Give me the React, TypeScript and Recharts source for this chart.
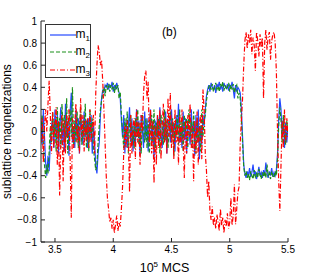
import { LineChart, Line, XAxis, YAxis, Legend } from 'recharts';

const FONT = '"Liberation Sans", Arial, Helvetica, sans-serif';

// time samples start at 3.38 (units of 10^5 MCS), one every 0.01
const T0 = 3.38;
const DT = 0.01;

const m1 = [
  0.1, -0.12, 0.2, -0.05, -0.28, -0.4, -0.22, -0.36, -0.1, 0.05,
  0.12, -0.15, 0.2, -0.08, 0.15, -0.2, 0.05, 0.22, -0.12, 0.08,
  -0.18, 0.25, -0.05, 0.1, -0.22, 0.18, 0.35, -0.1, 0.05, -0.15,
  0.2, -0.08, 0.12, -0.2, 0.15, 0.02, -0.12, 0.18, -0.05, 0.1,
  -0.15, 0.12, -0.08, 0.15, -0.2, 0.05, -0.1, -0.3, -0.38, -0.2,
  -0.1, 0.15, 0.3, 0.38, 0.35, 0.42, 0.4, 0.44, 0.38, 0.42,
  0.4, 0.45, 0.36, 0.42, 0.38, 0.44, 0.4, 0.35, 0.3, 0.1,
  -0.05, 0.15, -0.2, 0.1, -0.15, 0.05, 0.22, -0.1, 0.12, -0.18,
  0.08, -0.12, 0.2, -0.05, 0.1, -0.22, 0.15, 0.02, -0.15, 0.18,
  -0.08, 0.12, -0.18, 0.05, 0.2, -0.1, 0.08, -0.25, 0.1, -0.05,
  0.15, -0.12, 0.22, 0.0, -0.15, 0.1, -0.08, 0.18, -0.2, 0.05,
  0.12, -0.1, 0.2, -0.05, 0.08, -0.18, 0.15, -0.02, 0.25, -0.1,
  0.05, -0.15, 0.18, -0.08, 0.12, -0.2, 0.1, 0.02, -0.12, 0.2,
  -0.05, 0.1, -0.22, 0.15, -0.1, 0.2, -0.25, 0.05, -0.12, 0.15,
  0.05, 0.2, 0.32, 0.38, 0.42, 0.36, 0.44, 0.4, 0.38, 0.42,
  0.35, 0.43, 0.4, 0.45, 0.38, 0.42, 0.36, 0.44, 0.41, 0.39,
  0.43, 0.37, 0.42, 0.4, 0.45, 0.38, 0.3, 0.42, 0.36, 0.4,
  0.38, 0.35, 0.2, -0.05, -0.3, -0.38, -0.42, -0.36, -0.4, -0.33,
  -0.41, -0.37, -0.3, -0.4, -0.36, -0.43, -0.38, -0.32, -0.4, -0.37,
  -0.42, -0.35, -0.4, -0.28, -0.38, -0.42, -0.36, -0.4, -0.33, -0.41,
  -0.37, -0.4, -0.35, -0.2, 0.1, 0.3, 0.2, -0.05, 0.12, -0.15,
  0.08, -0.1, 0.05,
];

const m2 = [
  0.0, 0.15, -0.1, -0.3, -0.42, -0.3, -0.38, -0.18, 0.05, -0.1,
  0.18, -0.05, 0.1, -0.18, 0.22, -0.1, 0.12, -0.15, 0.25, 0.0,
  0.15, -0.1, 0.3, -0.2, 0.08, 0.2, -0.05, 0.4, -0.12, 0.1,
  -0.1, 0.18, -0.15, 0.05, 0.22, -0.12, 0.1, -0.05, 0.25, -0.15,
  0.1, -0.18, 0.2, -0.05, 0.12, -0.15, -0.25, -0.35, -0.3, -0.1,
  0.05, 0.2, 0.28, 0.35, 0.4, 0.32, 0.42, 0.38, 0.43, 0.36,
  0.42, 0.38, 0.44, 0.35, 0.41, 0.38, 0.42, 0.3, 0.36, 0.15,
  0.0, -0.15, 0.12, -0.05, 0.18, -0.2, 0.08, 0.15, -0.1, 0.05,
  -0.15, 0.12, -0.05, 0.2, -0.12, 0.08, -0.2, 0.15, 0.05, -0.1,
  0.12, -0.15, 0.1, -0.2, 0.0, 0.15, -0.1, 0.2, -0.18, 0.08,
  -0.05, 0.12, -0.2, 0.15, 0.05, -0.12, 0.2, -0.08, 0.1, -0.15,
  0.05, 0.18, -0.1, 0.12, -0.22, 0.08, -0.05, 0.15, -0.12, 0.2,
  -0.08, 0.1, -0.18, 0.15, 0.0, 0.12, -0.15, 0.2, -0.05, 0.1,
  -0.15, 0.18, -0.08, -0.2, 0.12, -0.1, 0.05, -0.18, 0.2, -0.05,
  0.1, 0.15, 0.28, 0.35, 0.4, 0.42, 0.38, 0.43, 0.36, 0.4,
  0.44, 0.38, 0.41, 0.36, 0.43, 0.4, 0.45, 0.37, 0.42, 0.38,
  0.4, 0.44, 0.36, 0.42, 0.38, 0.43, 0.35, 0.4, 0.42, 0.3,
  0.35, 0.3, 0.1, -0.1, -0.32, -0.4, -0.36, -0.42, -0.38, -0.44,
  -0.36, -0.4, -0.43, -0.35, -0.41, -0.38, -0.42, -0.34, -0.39, -0.43,
  -0.37, -0.41, -0.36, -0.42, -0.3, -0.4, -0.38, -0.43, -0.36, -0.4,
  -0.42, -0.36, -0.4, -0.25, 0.05, 0.22, 0.1, -0.1, 0.15, -0.05,
  -0.12, 0.1, -0.02,
];

const m3 = [
  -0.1, 0.12, -0.28, 0.05, 0.2, 0.0, 0.25, 0.46, 0.15, -0.2,
  0.18, -0.15, 0.05, 0.22, -0.3, 0.1, -0.58, -0.1, 0.15, -0.45,
  0.1, -0.2, 0.15, -0.05, 0.2, -0.25, -0.78, 0.12, -0.15, 0.08,
  0.25, -0.1, 0.05, -0.2, 0.3, -0.05, 0.15, -0.18, 0.1, -0.08,
  0.12, -0.15, 0.2, -0.1, 0.05, 0.15, -0.2, 0.35, 0.6, 0.78,
  0.72, 0.6, 0.65, 0.45, 0.2, -0.1, -0.4, -0.6, -0.7, -0.82,
  -0.78, -0.88, -0.8, -0.92, -0.84, -0.76, -0.9, -0.82, -0.86, -0.7,
  -0.5, -0.2, 0.05, -0.15, 0.1, -0.1, -0.55, 0.15, -0.2, 0.05,
  0.12, -0.25, 0.2, -0.1, 0.08, -0.3, 0.15, 0.0, 0.35, 0.5,
  0.55, 0.3, 0.45, -0.1, 0.2, -0.2, 0.1, -0.47, 0.05, -0.3,
  0.15, -0.15, 0.2, -0.25, 0.05, 0.25, -0.1, 0.12, -0.2, 0.3,
  -0.05, 0.35, -0.15, 0.1, -0.25, 0.2, -0.1, 0.05, -0.3, 0.15,
  -0.12, 0.2, -0.08, -0.42, 0.1, -0.2, 0.15, -0.05, 0.25, -0.15,
  0.05, -0.45, 0.1, -0.2, 0.18, -0.3, 0.08, 0.15, -0.25, 0.38,
  0.2, -0.2, -0.35, -0.6, -0.45, -0.72, -0.8, -0.68, -0.85, -0.78,
  -0.88, -0.75, -0.82, -0.9, -0.7, -0.85, -0.78, -0.92, -0.8, -0.86,
  -0.74, -0.88, -0.82, -0.6, -0.85, -0.76, -0.48, -0.84, -0.7, -0.55,
  -0.5, -0.1, 0.1, 0.3, 0.6, 0.82, 0.9, 0.75, 0.88, 0.8,
  0.92, 0.7, 0.85, 0.78, 0.55, 0.9, 0.82, 0.68, 0.88, 0.76,
  0.85, 0.3, 0.8, 0.92, 0.74, 0.86, 0.9, 0.65, 0.82, 0.88,
  0.9, 0.8, 0.55, 0.0, -0.45, -0.72, -0.3, 0.1, -0.15, 0.2,
  -0.1, 0.12, -0.05,
];

const xTicks = [3.5, 4, 4.5, 5, 5.5];
const yTicks = [-1, -0.8, -0.6, -0.4, -0.2, 0, 0.2, 0.4, 0.6, 0.8, 1];

const series = [
  { key: 'm1', sub: '1', color: '#2448ff', dash: undefined },
  { key: 'm2', sub: '2', color: '#1a8f1a', dash: '4 2' },
  { key: 'm3', sub: '3', color: '#ff0000', dash: '5 2 1 2' },
];

const data = m1.map((v, i) => ({
  t: +(T0 + i * DT).toFixed(2),
  m1: v,
  m2: m2[i],
  m3: m3[i],
}));

const fmt = (v: number) => String(v).replace('-', '\u2212');

function LegendBox() {
  return (
    <div
      style={{
        width: 46,
        height: 54,
        border: '1px solid #333',
        background: '#fff',
        fontFamily: FONT,
        fontSize: 12,
        color: '#000',
        paddingTop: 1,
        boxSizing: 'border-box',
      }}
    >
      {series.map((s) => (
        <div key={s.key} style={{ display: 'flex', alignItems: 'center', height: 17.5, lineHeight: '12px' }}>
          <svg width={31} height={6}>
            <line x1={4} y1={3} x2={30} y2={3} stroke={s.color} strokeWidth={1.2} strokeDasharray={s.dash} />
          </svg>
          <span>
            m<span style={{ fontSize: 8, position: 'relative', top: 3 }}>{s.sub}</span>
          </span>
        </div>
      ))}
    </div>
  );
}

const XLabel = (props: any) => {
  const { x, y, width, height } = props.viewBox;
  return (
    <text x={x + width / 2} y={y + height - 3} textAnchor="middle" fontSize={12.5} fontFamily={FONT} fill="#000">
      10<tspan dy={-5} fontSize={8}>5</tspan>
      <tspan dy={5}> MCS</tspan>
    </text>
  );
};

const YLabel = (props: any) => {
  const { y, height } = props.viewBox;
  const cy = y + height / 2;
  return (
    <text x={11} y={cy} transform={`rotate(-90, 11, ${cy})`} textAnchor="middle" fontSize={12} fontFamily={FONT} fill="#000">
      sublattice magnetizations
    </text>
  );
};

const tickStyle = { fontSize: 10, fill: '#000', fontFamily: FONT };
const lineStyle = { stroke: '#222' };

export default function App() {
  return (
    <div style={{ position: 'absolute', left: 0, top: 0, width: 319, height: 275, background: '#fff' }}>
      <LineChart width={319} height={275} data={data} margin={{ top: 21, right: 31, bottom: 0, left: 0 }}>
        <XAxis
          dataKey="t"
          type="number"
          domain={[T0, 5.5]}
          allowDataOverflow
          ticks={xTicks}
          interval={0}
          height={33}
          tickSize={-4}
          tickMargin={8}
          tick={tickStyle}
          axisLine={lineStyle}
          tickLine={lineStyle}
          label={XLabel}
        />
        <XAxis
          xAxisId="top"
          orientation="top"
          dataKey="t"
          type="number"
          domain={[T0, 5.5]}
          allowDataOverflow
          ticks={xTicks}
          interval={0}
          height={0}
          tickSize={-4}
          tick={false}
          axisLine={lineStyle}
          tickLine={lineStyle}
        />
        <YAxis
          type="number"
          domain={[-1, 1]}
          allowDataOverflow
          ticks={yTicks}
          interval={0}
          width={41}
          tickSize={-4}
          tickMargin={8}
          tick={tickStyle}
          tickFormatter={fmt}
          axisLine={lineStyle}
          tickLine={lineStyle}
          label={YLabel}
        />
        <YAxis
          yAxisId="right"
          orientation="right"
          type="number"
          domain={[-1, 1]}
          allowDataOverflow
          ticks={yTicks}
          interval={0}
          width={0}
          tickSize={-4}
          tick={false}
          axisLine={lineStyle}
          tickLine={lineStyle}
        />
        <Legend
          layout="vertical"
          align="center"
          verticalAlign="middle"
          wrapperStyle={{ left: 45, top: 24, width: 46 }}
          content={() => <LegendBox />}
        />
        {series.map((s) => (
          <Line
            key={s.key}
            dataKey={s.key}
            type="linear"
            stroke={s.color}
            strokeWidth={1.2}
            strokeDasharray={s.dash}
            dot={false}
            activeDot={false}
            isAnimationActive={false}
          />
        ))}
      </LineChart>
      <div
        style={{
          position: 'absolute',
          left: 162,
          top: 25,
          fontFamily: FONT,
          fontSize: 12,
          lineHeight: '14px',
          color: '#000',
        }}
      >
        (b)
      </div>
    </div>
  );
}
